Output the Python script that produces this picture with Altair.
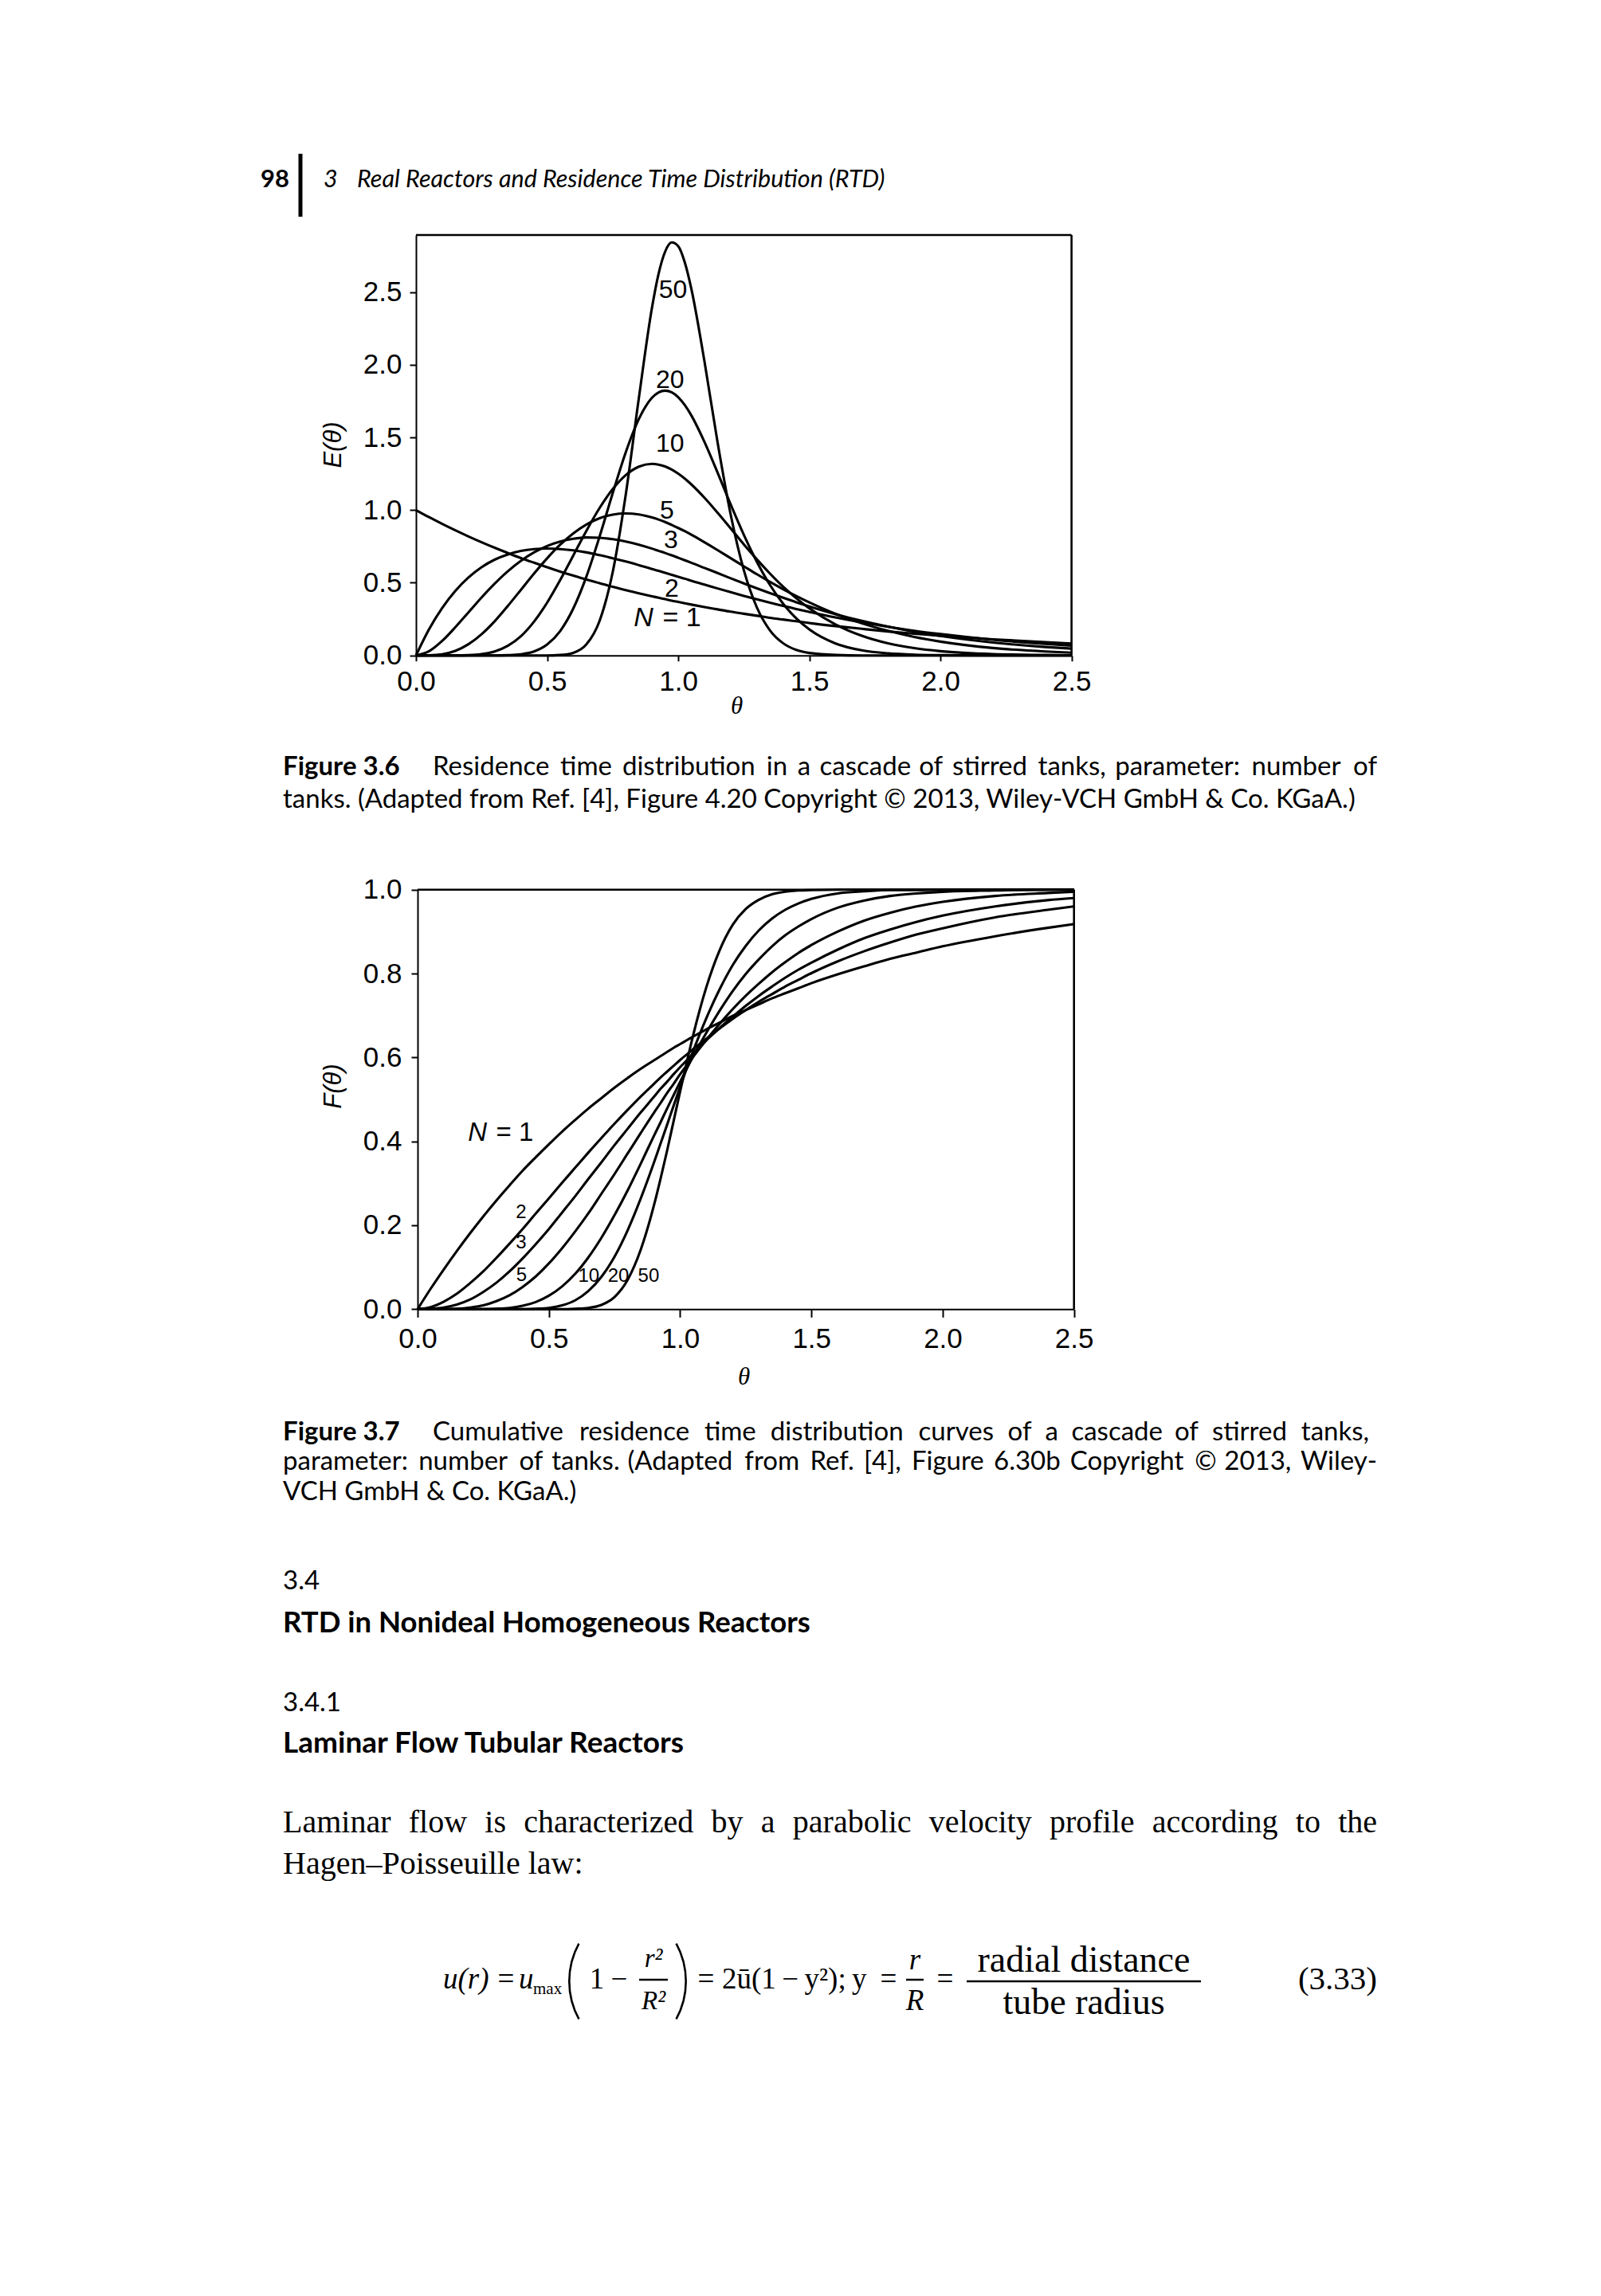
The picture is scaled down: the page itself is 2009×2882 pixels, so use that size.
import altair as alt
import pandas as pd

# ---------------------------------------------------------------- data
theta = [0, 0.05, 0.1, 0.15, 0.2, 0.25, 0.3, 0.35, 0.4, 0.45, 0.5, 0.55, 0.6, 0.65, 0.7,
         0.75, 0.8, 0.85, 0.9, 0.925, 0.95, 0.975, 1.0, 1.025, 1.05, 1.1, 1.15, 1.2, 1.25,
         1.3, 1.35, 1.4, 1.45, 1.5, 1.6, 1.7, 1.8, 1.9, 2.0, 2.2, 2.4, 2.5]
tanks = [1, 2, 3, 5, 10, 20, 50]

E_1 = [1.000, 0.951, 0.905, 0.861, 0.819, 0.779, 0.741, 0.705, 0.670, 0.638, 0.607, 0.577, 0.549, 0.522, 0.497,
       0.472, 0.449, 0.427, 0.407, 0.397, 0.387, 0.377, 0.368, 0.359, 0.350, 0.333, 0.317, 0.301, 0.287,
       0.273, 0.259, 0.247, 0.235, 0.223, 0.202, 0.183, 0.165, 0.150, 0.135, 0.111, 0.091, 0.082]
E_2 = [0.000, 0.181, 0.327, 0.444, 0.536, 0.607, 0.659, 0.695, 0.719, 0.732, 0.736, 0.732, 0.723, 0.709, 0.690,
       0.669, 0.646, 0.621, 0.595, 0.582, 0.568, 0.555, 0.541, 0.528, 0.514, 0.488, 0.461, 0.435, 0.410,
       0.386, 0.363, 0.341, 0.319, 0.299, 0.261, 0.227, 0.197, 0.170, 0.147, 0.108, 0.079, 0.067]
E_3 = [0.000, 0.029, 0.100, 0.194, 0.296, 0.399, 0.494, 0.579, 0.651, 0.709, 0.753, 0.784, 0.803, 0.812, 0.810,
       0.800, 0.784, 0.762, 0.735, 0.720, 0.705, 0.689, 0.672, 0.655, 0.638, 0.602, 0.567, 0.531, 0.496,
       0.462, 0.429, 0.397, 0.366, 0.337, 0.284, 0.238, 0.198, 0.163, 0.134, 0.089, 0.058, 0.047]
E_5 = [0.000, 0.001, 0.008, 0.031, 0.077, 0.146, 0.235, 0.340, 0.451, 0.563, 0.668, 0.762, 0.840, 0.901, 0.944,
       0.969, 0.977, 0.970, 0.949, 0.935, 0.918, 0.898, 0.877, 0.855, 0.831, 0.779, 0.725, 0.669, 0.614,
       0.559, 0.506, 0.456, 0.409, 0.365, 0.286, 0.221, 0.169, 0.127, 0.095, 0.051, 0.027, 0.019]
E_10 = [0.000, 0.000, 0.000, 0.000, 0.002, 0.009, 0.027, 0.066, 0.132, 0.232, 0.363, 0.519, 0.688, 0.858, 1.014,
        1.144, 1.241, 1.299, 1.318, 1.313, 1.300, 1.279, 1.251, 1.217, 1.177, 1.085, 0.982, 0.874, 0.765,
        0.661, 0.563, 0.473, 0.394, 0.324, 0.213, 0.135, 0.083, 0.050, 0.029, 0.009, 0.003, 0.001]
E_20 = [0.000, 0.000, 0.000, 0.000, 0.000, 0.000, 0.000, 0.002, 0.008, 0.027, 0.075, 0.168, 0.323, 0.543, 0.817,
        1.115, 1.398, 1.627, 1.773, 1.810, 1.822, 1.811, 1.777, 1.723, 1.652, 1.470, 1.259, 1.039, 0.831,
        0.644, 0.485, 0.356, 0.255, 0.179, 0.082, 0.035, 0.014, 0.005, 0.002, 0.000, 0.000, 0.000]
E_50 = [0.000, 0.000, 0.000, 0.000, 0.000, 0.000, 0.000, 0.000, 0.000, 0.000, 0.000, 0.003, 0.018, 0.076, 0.237,
        0.571, 1.107, 1.772, 2.393, 2.625, 2.778, 2.842, 2.816, 2.705, 2.524, 2.025, 1.467, 0.970, 0.588,
        0.330, 0.172, 0.084, 0.038, 0.017, 0.003, 0.000, 0.000, 0.000, 0.000, 0.000, 0.000, 0.000]

F_1 = [0.000, 0.049, 0.095, 0.139, 0.181, 0.221, 0.259, 0.295, 0.330, 0.362, 0.393, 0.423, 0.451, 0.478, 0.503,
       0.528, 0.551, 0.573, 0.593, 0.603, 0.613, 0.623, 0.632, 0.641, 0.650, 0.667, 0.683, 0.699, 0.713,
       0.727, 0.741, 0.753, 0.765, 0.777, 0.798, 0.817, 0.835, 0.850, 0.865, 0.889, 0.909, 0.918]
F_2 = [0.000, 0.005, 0.018, 0.037, 0.062, 0.090, 0.122, 0.156, 0.191, 0.228, 0.264, 0.301, 0.337, 0.373, 0.408,
       0.442, 0.475, 0.507, 0.537, 0.552, 0.566, 0.580, 0.594, 0.607, 0.620, 0.645, 0.669, 0.692, 0.713,
       0.733, 0.751, 0.769, 0.785, 0.801, 0.829, 0.853, 0.874, 0.893, 0.908, 0.934, 0.952, 0.960]
F_3 = [0.000, 0.001, 0.004, 0.011, 0.023, 0.041, 0.063, 0.090, 0.121, 0.155, 0.191, 0.230, 0.269, 0.310, 0.350,
       0.391, 0.430, 0.469, 0.506, 0.525, 0.542, 0.560, 0.577, 0.593, 0.610, 0.641, 0.670, 0.697, 0.723,
       0.747, 0.769, 0.790, 0.809, 0.826, 0.857, 0.884, 0.905, 0.923, 0.938, 0.960, 0.975, 0.980]
F_5 = [0.000, 0.000, 0.000, 0.001, 0.004, 0.009, 0.019, 0.033, 0.053, 0.078, 0.109, 0.145, 0.185, 0.228, 0.275,
       0.322, 0.371, 0.420, 0.468, 0.491, 0.515, 0.537, 0.560, 0.581, 0.602, 0.642, 0.680, 0.715, 0.747,
       0.776, 0.803, 0.827, 0.849, 0.868, 0.900, 0.926, 0.945, 0.960, 0.971, 0.985, 0.992, 0.995]
F_10 = [0.000, 0.000, 0.000, 0.000, 0.000, 0.000, 0.001, 0.003, 0.008, 0.017, 0.032, 0.054, 0.084, 0.123, 0.170,
        0.224, 0.283, 0.347, 0.413, 0.445, 0.478, 0.510, 0.542, 0.573, 0.603, 0.659, 0.711, 0.758, 0.799,
        0.834, 0.865, 0.891, 0.912, 0.930, 0.957, 0.974, 0.985, 0.991, 0.995, 0.998, 1.000, 1.000]
F_20 = [0.000, 0.000, 0.000, 0.000, 0.000, 0.000, 0.000, 0.000, 0.000, 0.001, 0.003, 0.009, 0.021, 0.043, 0.077,
        0.125, 0.188, 0.264, 0.349, 0.394, 0.439, 0.485, 0.530, 0.574, 0.616, 0.694, 0.762, 0.820, 0.866,
        0.903, 0.931, 0.952, 0.967, 0.978, 0.991, 0.996, 0.999, 0.999, 1.000, 1.000, 1.000, 1.000]
F_50 = [0.000, 0.000, 0.000, 0.000, 0.000, 0.000, 0.000, 0.000, 0.000, 0.000, 0.000, 0.000, 0.001, 0.003, 0.010,
        0.029, 0.070, 0.142, 0.247, 0.310, 0.377, 0.448, 0.519, 0.588, 0.654, 0.768, 0.855, 0.916, 0.954,
        0.976, 0.989, 0.995, 0.998, 0.999, 1.000, 1.000, 1.000, 1.000, 1.000, 1.000, 1.000, 1.000]

axis_ticks_E = [0.0, 0.5, 1.0, 1.5, 2.0, 2.5]
axis_ticks_F = [0.0, 0.2, 0.4, 0.6, 0.8, 1.0]
axis_ticks_theta = [0.0, 0.5, 1.0, 1.5, 2.0, 2.5]
E_top = 2.893

# curve labels (text, theta, value)
labels_E = ["50", "20", "10", "5", "3", "2"]
labels_E_theta = [0.980, 0.969, 0.969, 0.957, 0.9725, 0.9755]
labels_E_value = [2.515, 1.895, 1.457, 0.996, 0.793, 0.459]
labels_F = ["2", "3", "5", "10", "20", "50"]
labels_F_theta = [0.394, 0.394, 0.396, 0.652, 0.765, 0.880]
labels_F_value = [0.230, 0.158, 0.080, 0.078, 0.078, 0.078]
n1_E_anchor = [0.868, 1.014, 0.256]   # theta of "N", theta of "= 1", E value
n1_F_anchor = [0.228, 0.370, 0.420]

# page text
header_num = "98"
header_chapter = "3"
header_title = "Real Reactors and Residence Time Distribution (RTD)"
cap1_label = "Figure 3.6"
cap1_lines = ["Residence time distribution in a cascade of stirred tanks, parameter: number of",
              "tanks. (Adapted from Ref. [4], Figure 4.20 Copyright \u00a9 2013, Wiley-VCH GmbH & Co. KGaA.)"]
cap2_label = "Figure 3.7"
cap2_lines = ["Cumulative residence time distribution curves of a cascade of stirred tanks,",
              "parameter: number of tanks. (Adapted from Ref. [4], Figure 6.30b Copyright \u00a9 2013, Wiley-",
              "VCH GmbH & Co. KGaA.)"]
sec_num, sec_title = "3.4", "RTD in Nonideal Homogeneous Reactors"
sub_num, sub_title = "3.4.1", "Laminar Flow Tubular Reactors"
body_lines = ["Laminar flow is characterized by a parabolic velocity profile according to the",
              "Hagen\u2013Poisseuille law:"]

# ---------------------------------------------------------------- table
rows = []
for n, es, fs in zip(tanks, [E_1, E_2, E_3, E_5, E_10, E_20, E_50],
                     [F_1, F_2, F_3, F_5, F_10, F_20, F_50]):
    for t, e, f in zip(theta, es, fs):
        rows.append({"theta": t, "E": e, "F": f, "N": n})
df = pd.DataFrame(rows)

W, H = 2009, 2882
X1 = alt.Scale(domain=[0, 2.5], range=[522.0, 1344.6], nice=False, zero=False)
Y1 = alt.Scale(domain=[0, E_top], range=[822.7, 295.0], nice=False, zero=False)
X2 = alt.Scale(domain=[0, 2.5], range=[524.0, 1347.7], nice=False, zero=False)
Y2 = alt.Scale(domain=[0, 1.0], range=[1643.3, 1116.7], nice=False, zero=False)

SANS = "Liberation Sans"
SERIF = "Liberation Serif"
CAP = "Lato"

# approximate advance widths (per 1000 em) used to justify full text lines
_lato = {" ": 193, "(": 330, ")": 330, ",": 220, "-": 330, ".": 220, ":": 240, ";": 240, "[": 330, "]": 330,
         "&": 680, "\u00a9": 780, "0": 580, "1": 580, "2": 580, "3": 580, "4": 580, "5": 580, "6": 580,
         "7": 580, "8": 580, "9": 580,
         "A": 680, "B": 640, "C": 670, "D": 740, "E": 560, "F": 540, "G": 720, "H": 750, "I": 280, "J": 390,
         "K": 650, "L": 490, "M": 900, "N": 750, "O": 790, "P": 600, "Q": 790, "R": 620, "S": 520, "T": 560,
         "U": 720, "V": 680, "W": 1010, "X": 650, "Y": 630, "Z": 600,
         "a": 471, "b": 564, "c": 455, "d": 564, "e": 517, "f": 330, "g": 505, "h": 561, "i": 239, "j": 239,
         "k": 500, "l": 239, "m": 849, "n": 561, "o": 559, "p": 564, "q": 564, "r": 378, "s": 409, "t": 350,
         "u": 561, "v": 500, "w": 760, "x": 480, "y": 500, "z": 440}
_times = {" ": 250, "(": 333, ")": 333, ",": 250, "-": 333, ".": 250, ":": 278, ";": 278,
          "A": 722, "B": 667, "C": 667, "D": 722, "E": 611, "F": 556, "G": 722, "H": 722, "I": 333, "J": 389,
          "K": 722, "L": 611, "M": 889, "N": 722, "O": 722, "P": 556, "Q": 722, "R": 667, "S": 556, "T": 611,
          "U": 722, "V": 722, "W": 944, "X": 722, "Y": 722, "Z": 611, "a": 444, "b": 500, "c": 444, "d": 500,
          "e": 444, "f": 333, "g": 500, "h": 500, "i": 278, "j": 278, "k": 500, "l": 278, "m": 778, "n": 500,
          "o": 500, "p": 500, "q": 500, "r": 333, "s": 389, "t": 278, "u": 500, "v": 500, "w": 722, "x": 500,
          "y": 500, "z": 444}


def make_axis(orient, offset, values, tick, pad, title, tx, ty, tfont, angle):
    return alt.Axis(orient=orient, offset=offset, values=values, format=".1f",
                    tickSize=tick, tickWidth=2, tickColor="black",
                    domainColor="black", domainWidth=2, grid=False,
                    labelFont=SANS, labelFontSize=35, labelColor="black",
                    labelPadding=pad, labelFlush=False, labelOverlap=False,
                    title=title, titleFont=tfont, titleFontSize=31, titleFontStyle="italic",
                    titleFontWeight="normal", titleColor="black", titleX=tx, titleY=ty,
                    titleAngle=angle, titleAlign="center", titleBaseline="middle")


LW = 3.1
lines_E = alt.Chart(df).mark_line(color="black", strokeWidth=LW, interpolate="monotone").encode(
    x=alt.X("theta:Q", scale=X1,
            axis=make_axis("bottom", 822.7 - H, axis_ticks_theta, 7, 9, "\u03b8", 924, 64, SERIF, 0)),
    y=alt.Y("E:Q", scale=Y1,
            axis=make_axis("left", -522.0, axis_ticks_E, 8, 10, "E(\u03b8)", -104, 558, SANS, 270)),
    detail="N:N")

lines_F = alt.Chart(df).mark_line(color="black", strokeWidth=LW, interpolate="monotone").encode(
    x=alt.X("theta:Q", scale=X2,
            axis=make_axis("bottom", 1643.3 - H, axis_ticks_theta, 10, 10, "\u03b8", 933, 85, SERIF, 0)),
    y=alt.Y("F:Q", scale=Y2,
            axis=make_axis("left", -524.0, axis_ticks_F, 8, 12, "F(\u03b8)", -106, 1363, SANS, 270)),
    detail="N:N")

# frame (top and right edges) of both plots, through the scales
frame1 = pd.DataFrame({"x": [0, 2.5], "x2": [2.5, 2.5], "y": [E_top, 0], "y2": [E_top, E_top]})
frame2 = pd.DataFrame({"x": [0, 2.5], "x2": [2.5, 2.5], "y": [1.0, 0], "y2": [1.0, 1.0]})
box1 = alt.Chart(frame1).mark_rule(color="black", strokeWidth=2.6).encode(
    x=alt.X("x:Q", scale=X1, axis=None), x2="x2:Q",
    y=alt.Y("y:Q", scale=Y1, axis=None), y2="y2:Q")
box2 = alt.Chart(frame2).mark_rule(color="black", strokeWidth=2.6).encode(
    x=alt.X("x:Q", scale=X2, axis=None), x2="x2:Q",
    y=alt.Y("y:Q", scale=Y2, axis=None), y2="y2:Q")

labE = alt.Chart(pd.DataFrame({"t": labels_E, "x": labels_E_theta, "y": labels_E_value})).mark_text(
    font=SANS, fontSize=32, color="black").encode(
    x=alt.X("x:Q", scale=X1, axis=None), y=alt.Y("y:Q", scale=Y1, axis=None), text="t:N")
labF = alt.Chart(pd.DataFrame({"t": labels_F, "x": labels_F_theta, "y": labels_F_value})).mark_text(
    font=SANS, fontSize=24, color="black").encode(
    x=alt.X("x:Q", scale=X2, axis=None), y=alt.Y("y:Q", scale=Y2, axis=None), text="t:N")


def n_label(anchor, xs, ys, size):
    d = pd.DataFrame({"t": ["N", "= 1"], "x": anchor[:2], "y": [anchor[2], anchor[2]]})
    a = alt.Chart(d.iloc[[0]]).mark_text(font=SANS, fontSize=size, fontStyle="italic", color="black").encode(
        x=alt.X("x:Q", scale=xs, axis=None), y=alt.Y("y:Q", scale=ys, axis=None), text="t:N")
    b = alt.Chart(d.iloc[[1]]).mark_text(font=SANS, fontSize=size, color="black").encode(
        x=alt.X("x:Q", scale=xs, axis=None), y=alt.Y("y:Q", scale=ys, axis=None), text="t:N")
    return [a, b]


def txt(s, x, y, size, font=CAP, style="normal", weight="normal", align="left", baseline="middle"):
    return alt.Chart(pd.DataFrame({"t": [s]})).mark_text(
        font=font, fontSize=size, fontStyle=style, fontWeight=weight, align=align,
        baseline=baseline, color="black").encode(text="t:N", x=alt.value(x), y=alt.value(y))


def justified(line, x0, x1, y, size, font, table, factor):
    """Spread the words of one text line so that it fills x0..x1 (book justification)."""
    words = line.split(" ")
    widths = [sum(table.get(c, 556) for c in w) / 1000.0 * size * factor for w in words]
    gap = (x1 - x0 - sum(widths)) / (len(words) - 1)
    xs, x = [], x0
    for w in widths:
        xs.append(x)
        x += w + gap
    d = pd.DataFrame({"t": words[:-1], "px": xs[:-1]})
    body = alt.Chart(d).mark_text(font=font, fontSize=size, align="left", baseline="middle",
                                  color="black").encode(
        text="t:N", x=alt.X("px:Q", scale=None, axis=None), y=alt.value(y))
    return [body, txt(words[-1], x1, y, size, font=font, align="right")]


def hrule(x1, x2, y, w=2):
    return alt.Chart(pd.DataFrame({"a": [0]})).mark_rule(color="black", strokeWidth=w).encode(
        x=alt.value(x1), x2=alt.value(x2), y=alt.value(y))


def vrule(x, y1, y2, w=5):
    return alt.Chart(pd.DataFrame({"a": [0]})).mark_rule(color="black", strokeWidth=w).encode(
        x=alt.value(x), y=alt.value(y1), y2=alt.value(y2))


def paren(cx, cy, r, a0, a1, w=2.6):
    """Thin tall bracket of the equation, drawn as a narrow arc."""
    return alt.Chart(pd.DataFrame({"a": [0]})).mark_arc(color="black").encode(
        x=alt.value(cx), y=alt.value(cy), radius=alt.value(r), radius2=alt.value(r - w),
        theta=alt.value(a0), theta2=alt.value(a1))


CS = 33  # caption size
EQ = 37  # equation size
page = [
    txt(header_num, 327, 226, 31, weight="bold"),
    vrule(377, 193, 272, 5),
    txt(header_chapter, 406, 226, 30.5, style="italic"),
    txt(header_title, 448, 226, 30.5, style="italic"),
    txt(cap1_label, 355, 963, CS, weight="bold"),
    *justified(cap1_lines[0], 543, 1728, 963, CS, CAP, _lato, 1.02),
    txt(cap1_lines[1], 355, 1004, CS),
    txt(cap2_label, 355, 1798, CS, weight="bold"),
    *justified(cap2_lines[0], 543, 1718, 1798, CS, CAP, _lato, 1.02),
    *justified(cap2_lines[1], 355, 1728, 1835, CS, CAP, _lato, 1.02),
    txt(cap2_lines[2], 355, 1873, CS),
    txt(sec_num, 355, 1985, CS),
    txt(sec_title, 355, 2038, 36.5, weight="bold"),
    txt(sub_num, 355, 2138, CS),
    txt(sub_title, 355, 2189, 37, weight="bold"),
    *justified(body_lines[0], 355, 1728, 2288, 40, SERIF, _times, 1.0),
    txt(body_lines[1], 355, 2340, 40, font=SERIF),
    # equation (3.33)
    txt("u(r)", 556, 2485, EQ, font=SERIF, style="italic"),
    txt("=", 635, 2485, EQ, font=SERIF, align="center"),
    txt("u", 651, 2485, EQ, font=SERIF, style="italic"),
    txt("max", 669, 2497, 21, font=SERIF),
    paren(813, 2487, 100, 4.211, 5.213),
    txt("1", 749, 2485, EQ, font=SERIF, align="center"),
    txt("\u2212", 777, 2485, EQ, font=SERIF, align="center"),
    txt("r\u00b2", 820, 2459, 33, font=SERIF, style="italic", align="center"),
    hrule(802, 838, 2485, 2.5),
    txt("R\u00b2", 820, 2512, 33, font=SERIF, style="italic", align="center"),
    paren(762, 2487, 100, 1.070, 2.072),
    txt("=", 886, 2485, EQ, font=SERIF, align="center"),
    txt("2\u016b(1\u2009\u2212\u2009y\u00b2);\u2009y", 906, 2485, EQ, font=SERIF),
    txt("=", 1115, 2485, EQ, font=SERIF, align="center"),
    txt("r", 1148, 2461, EQ, font=SERIF, style="italic", align="center"),
    hrule(1137, 1159, 2485, 2.5),
    txt("R", 1148, 2512, EQ, font=SERIF, style="italic", align="center"),
    txt("=", 1186, 2485, EQ, font=SERIF, align="center"),
    txt("radial distance", 1360, 2461, 46, font=SERIF, align="center"),
    hrule(1213, 1507, 2487, 2.5),
    txt("tube radius", 1360, 2514, 46, font=SERIF, align="center"),
    txt("(3.33)", 1728, 2485, 41, font=SERIF, align="right"),
]

layers = [lines_E, lines_F, box1, box2, labE, labF] + n_label(n1_E_anchor, X1, Y1, 34) \
    + n_label(n1_F_anchor, X2, Y2, 33) + page

chart = alt.layer(*layers).resolve_scale(x="independent", y="independent").properties(
    width=W, height=H, padding=0, background="white",
    autosize=alt.AutoSizeParams(type="none")
).configure_view(strokeWidth=0)

chart.save("out.html", embed_options={"renderer": "svg", "actions": False})
